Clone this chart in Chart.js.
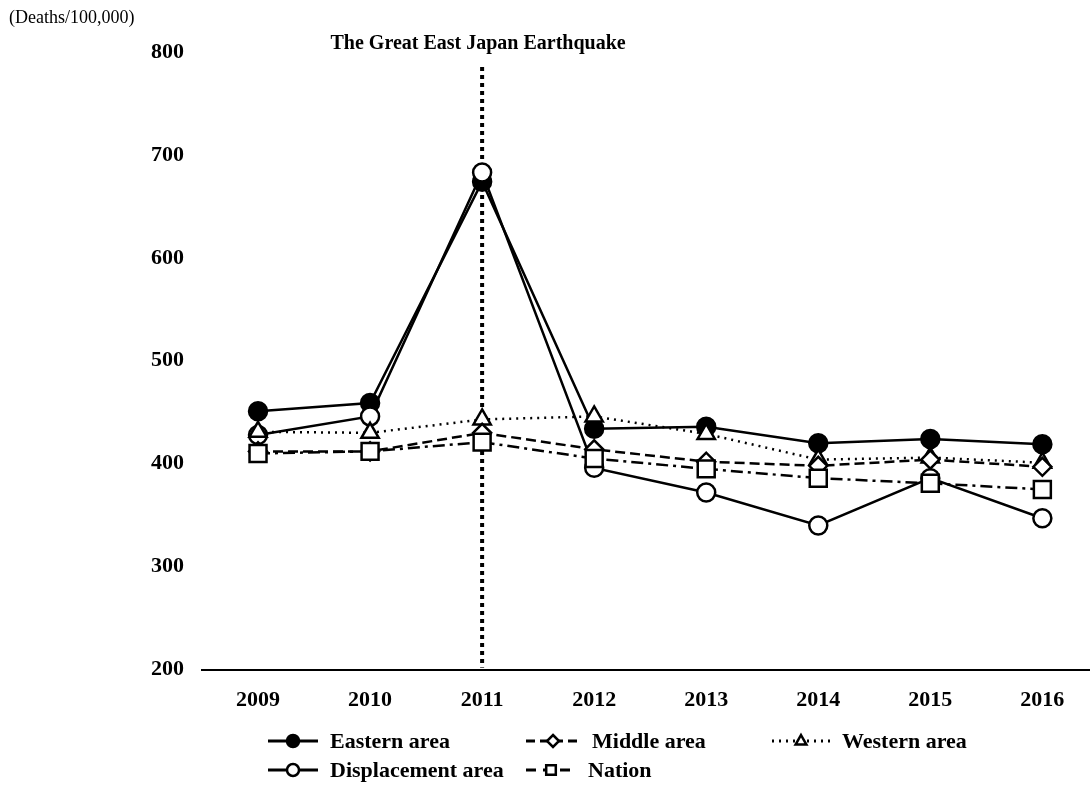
<!DOCTYPE html>
<html>
  <head>
    <title>Deaths per 100,000</title>
    <script src="https://cdn.jsdelivr.net/npm/chart.js"></script>
    <style>
      html, body { margin: 0; padding: 0; background: #fff; overflow: hidden; }
      canvas { display: block; }
    </style>
  </head>
  <body>
    <canvas id="deathChart" width="1090" height="788"></canvas>
    <script>
      // data
      var years = [2009, 2010, 2011, 2012, 2013, 2014, 2015, 2016];
      var yTicks = [200, 300, 400, 500, 600, 700, 800];
      var eastern = [451, 459, 674, 434, 436, 420, 424, 419];
      var middle = [412, 412, 430, 414, 402, 398, 404, 397];
      var western = [431, 430, 443, 446, 429, 404, 406, 401];
      var displacement = [428, 446, 683, 396, 372, 340, 386, 347];
      var nation = [410, 412, 421, 405, 395, 386, 381, 375];
      var quakeYear = 2011;

      var serif = '"Liberation Serif", "Times New Roman", serif';

      function points(values) {
        return values.map(function(v, i) { return { x: years[i], y: v }; });
      }

      function series(label, values, style, filled, dash, radius) {
        return {
          label: label,
          data: points(values),
          borderColor: '#000',
          borderWidth: 2.5,
          borderDash: dash,
          pointStyle: style,
          pointRadius: radius,
          pointBorderWidth: 2.5,
          pointBackgroundColor: filled ? '#000' : '#fff',
          pointBorderColor: '#000',
          tension: 0,
          fill: false
        };
      }

      // legend drawn by hand: line + marker + text
      function drawMarker(ctx, style, filled, x, y, r) {
        ctx.save();
        ctx.setLineDash([]);
        ctx.lineWidth = 2.5;
        ctx.strokeStyle = '#000';
        ctx.fillStyle = filled ? '#000' : '#fff';
        ctx.beginPath();
        if (style === 'circle') {
          ctx.arc(x, y, r, 0, Math.PI * 2);
        } else if (style === 'rectRot') {
          ctx.moveTo(x, y - r); ctx.lineTo(x + r, y); ctx.lineTo(x, y + r); ctx.lineTo(x - r, y);
          ctx.closePath();
        } else if (style === 'triangle') {
          ctx.moveTo(x, y - r); ctx.lineTo(x + r * 0.9, y + r * 0.6); ctx.lineTo(x - r * 0.9, y + r * 0.6);
          ctx.closePath();
        } else {
          ctx.rect(x - r * 0.8, y - r * 0.8, r * 1.6, r * 1.6);
        }
        ctx.fill();
        ctx.stroke();
        ctx.restore();
      }

      var legendItems = [
        { text: 'Eastern area', style: 'circle', filled: true, dash: [], x: 268, w: 50, row: 0 },
        { text: 'Middle area', style: 'rectRot', filled: false, dash: [9, 5], x: 526, w: 54, row: 0 },
        { text: 'Western area', style: 'triangle', filled: false, dash: [2, 5], x: 772, w: 58, row: 0 },
        { text: 'Displacement area', style: 'circle', filled: false, dash: [], x: 268, w: 50, row: 1 },
        { text: 'Nation', style: 'rect', filled: false, dash: [10, 7], x: 526, w: 50, row: 1 }
      ];
      var legendRows = [741, 770];

      var decorations = {
        id: 'decorations',
        beforeDatasetsDraw: function(chart) {
          var ctx = chart.ctx;
          var x = chart.scales.x.getPixelForValue(quakeYear);
          ctx.save();
          ctx.strokeStyle = '#000';
          ctx.lineWidth = 4;
          ctx.setLineDash([4, 4]);
          ctx.beginPath();
          ctx.moveTo(x, 67);
          ctx.lineTo(x, chart.chartArea.bottom - 2);
          ctx.stroke();
          ctx.restore();
        },
        afterDraw: function(chart) {
          var ctx = chart.ctx;
          var x = chart.scales.x.getPixelForValue(quakeYear);
          ctx.save();
          ctx.fillStyle = '#000';
          ctx.textBaseline = 'middle';
          ctx.font = 'bold 20px ' + serif;
          ctx.textAlign = 'center';
          ctx.fillText('The Great East Japan Earthquake', x - 4, 44);
          ctx.font = '18px ' + serif;
          ctx.textAlign = 'left';
          ctx.fillText('(Deaths/100,000)', 9, 18);

          ctx.font = 'bold 22px ' + serif;
          legendItems.forEach(function(it) {
            var y = legendRows[it.row];
            ctx.save();
            ctx.strokeStyle = '#000';
            ctx.lineWidth = 3;
            ctx.setLineDash(it.dash);
            ctx.beginPath();
            ctx.moveTo(it.x, y);
            ctx.lineTo(it.x + it.w, y);
            ctx.stroke();
            ctx.restore();
            drawMarker(ctx, it.style, it.filled, it.x + it.w / 2, y, 6);
            ctx.fillText(it.text, it.x + it.w + 12, y + 1);
          });
          ctx.restore();
        }
      };

      document.addEventListener('DOMContentLoaded', function() {
        var ctx = document.getElementById('deathChart').getContext('2d');
        new Chart(ctx, {
          type: 'line',
          data: {
            datasets: [
              series('Nation', nation, 'rect', false, [12, 5, 3, 5], 12),
              series('Middle area', middle, 'rectRot', false, [10, 5], 9),
              series('Western area', western, 'triangle', false, [2, 5], 10),
              series('Displacement area', displacement, 'circle', false, [], 9),
              series('Eastern area', eastern, 'circle', true, [], 9)
            ]
          },
          options: {
            responsive: false,
            animation: false,
            layout: {
              autoPadding: false,
              padding: { top: 52, left: 133, right: 0, bottom: 56 }
            },
            plugins: {
              legend: { display: false },
              tooltip: { enabled: false }
            },
            scales: {
              x: {
                type: 'linear',
                min: years[0] - 0.5,
                max: years[0] - 0.5 + 890 / 112.3,
                afterBuildTicks: function(axis) {
                  axis.ticks = years.map(function(y) { return { value: y }; });
                },
                grid: { display: false, drawTicks: false },
                border: { display: true, color: '#000', width: 2 },
                ticks: {
                  color: '#000',
                  padding: 18,
                  maxRotation: 0,
                  autoSkip: false,
                  font: { family: serif, size: 22, weight: 'bold' },
                  callback: function(v) { return String(v); }
                }
              },
              y: {
                min: 200,
                max: 800,
                afterBuildTicks: function(axis) {
                  axis.ticks = yTicks.map(function(v) { return { value: v }; });
                },
                grid: { display: false, drawTicks: false },
                border: { display: false },
                ticks: {
                  color: '#000',
                  padding: 18,
                  font: { family: serif, size: 22, weight: 'bold' }
                }
              }
            }
          },
          plugins: [decorations]
        });
      });
    </script>
  </body>
</html>
